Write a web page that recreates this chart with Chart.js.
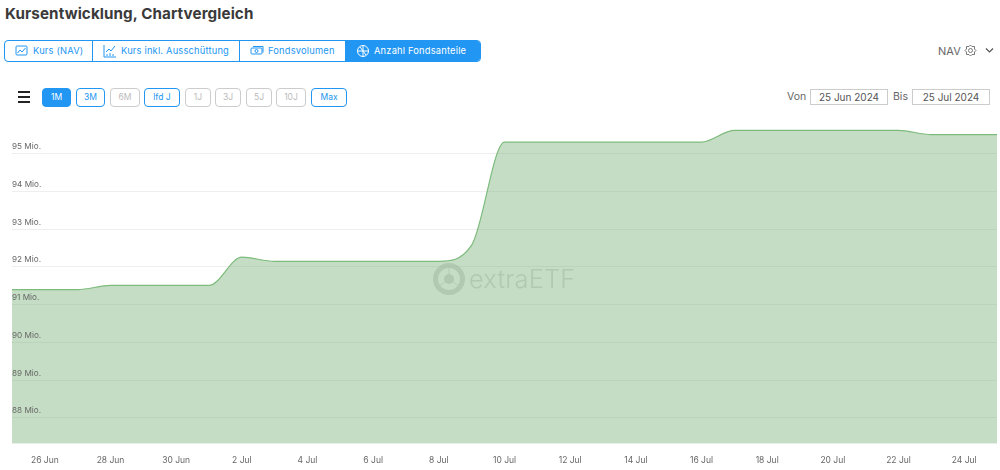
<!DOCTYPE html>
<html lang="de">
<head>
<meta charset="utf-8">
<title>Kursentwicklung, Chartvergleich</title>
<script src="https://cdn.jsdelivr.net/npm/chart.js@4"></script>
<style>
    html, body { margin: 0; padding: 0; background: #fff; }
    body { width: 1000px; height: 470px; position: relative; overflow: hidden; font-family: Inter, "Open Sans", sans-serif; }
    h1 { position: absolute; left: 5px; top: 4px; margin: 0; font-size: 15.2px; line-height: 20px; font-weight: 700; color: #3a3a3a; letter-spacing: 0.1px; }
    .tabs { position: absolute; left: 4px; top: 40px; width: 477px; height: 22px; box-sizing: border-box; border: 1px solid #2196f3; border-radius: 4px; overflow: hidden; }
    .tab { position: absolute; top: 0; height: 20px; line-height: 20px; font-size: 9.3px; color: #2196f3; letter-spacing: 0.2px; white-space: nowrap; box-sizing: border-box; border-right: 1px solid #2196f3; }
    .tab svg { position: absolute; left: 10px; top: 3px; }
    .tab span { position: absolute; top: 0; }
    .tab.active { background: #2196f3; color: #fff; border-right: 0; }
    .menu { position: absolute; left: 18px; top: 91px; width: 12px; height: 2px; background: #222; box-shadow: 0 5px 0 #222, 0 10px 0 #222; }
    .range { position: absolute; top: 88px; height: 19px; line-height: 17px; box-sizing: border-box; text-align: center; font-size: 8.5px; border: 1px solid #2196f3; border-radius: 4px; color: #2196f3; }
    .range.on { background: #2196f3; color: #fff; }
    .range.off { border-color: #ccc; color: #bbb; }
    .lbl { position: absolute; font-size: 10.5px; color: #666; line-height: 14px; }
    .date { position: absolute; top: 89px; width: 78px; height: 16px; line-height: 15px; box-sizing: border-box; border: 1px solid #ccc; text-align: center; font-size: 10px; color: #555; }
    #wrap { position: absolute; left: 0; top: 121px; width: 1001px; height: 349px; }
    #chart { display: block; }
    .mark { position: absolute; left: 432px; top: 262px; width: 150px; height: 34px; opacity: 0.55; }
    .mark span { position: absolute; left: 37px; top: 0; font-size: 25.4px; font-weight: 300; line-height: 34px; color: #a3b8a3; letter-spacing: 0.2px; }
</style>
</head>
<body>
<h1>Kursentwicklung, Chartvergleich</h1>

<div class="tabs">
    <div class="tab" style="left:0;width:88px">
        <svg width="13" height="13" viewBox="0 0 13 13" fill="none" stroke="#2196f3"><rect x="1" y="2" width="11" height="9" rx="1"/><path d="M2.500 9 5 6l2 2 3.500-4"/></svg>
        <span style="left:28px">Kurs (NAV)</span>
    </div>
    <div class="tab" style="left:88px;width:147px">
        <svg width="14" height="14" viewBox="0 0 14 14" fill="none" stroke="#2196f3"><path d="M1 1v12h12"/><path d="M3 8l3-3 2 2 4-5"/><path d="M4 12v-2M7 12v-3M10 12v-2"/></svg>
        <span style="left:28px">Kurs inkl. Ausschüttung</span>
    </div>
    <div class="tab" style="left:235px;width:106px">
        <svg width="14" height="13" viewBox="0 0 14 13" fill="none" stroke="#2196f3"><rect x="1" y="4" width="11" height="6" rx="1"/><path d="M3 2.500h10v6"/><circle cx="6.500" cy="7" r="1.500"/></svg>
        <span style="left:28px">Fondsvolumen</span>
    </div>
    <div class="tab active" style="left:341px;width:135px">
        <svg width="14" height="14" viewBox="0 0 14 14" fill="none" stroke="#fff"><circle cx="7" cy="7" r="5.500"/><path d="M7 1.500v11M1.500 7h11M4 3l6 8"/></svg>
        <span style="left:28px">Anzahl Fondsanteile</span>
    </div>
</div>

<div class="lbl" style="left:938px;top:44px;font-size:11px">NAV</div>
<svg style="position:absolute;left:964px;top:44px" width="13" height="13" viewBox="0 0 13 13" fill="none" stroke="#777"><path d="M6.500 1 8 2.500h2.500V5L12 6.500 10.500 8v2.500H8L6.500 12 5 10.500H2.500V8L1 6.500 2.500 5V2.500H5z"/><circle cx="6.500" cy="6.500" r="2"/></svg>
<svg style="position:absolute;left:985px;top:47px" width="9" height="7" viewBox="0 0 9 7" fill="none" stroke="#555" stroke-width="1.200"><path d="M1 1.500 4.500 5 8 1.500"/></svg>

<div class="menu"></div>
<div id="ranges"></div>

<div class="lbl" style="left:787px;top:90px">Von</div>
<div class="date" style="left:810px">25 Jun 2024</div>
<div class="lbl" style="left:893px;top:90px">Bis</div>
<div class="date" style="left:912px">25 Jul 2024</div>

<div id="wrap"><canvas id="chart" width="1001" height="349"></canvas></div>

<div class="mark">
    <svg width="34" height="34" viewBox="0 0 34 34" fill="none" stroke="#a3b8a3"><circle cx="17" cy="17" r="13.500" stroke-width="5"/><circle cx="17" cy="17" r="5" fill="#a3b8a3" stroke="none"/><path d="M17 4v13M17 17 6 25M17 17l11 8" stroke-width="0.800"/></svg>
    <span>extraETF</span>
</div>

<script>
// one entry per day, 25 Jun - 25 Jul 2024
let days = [
    '25 Jun', '26 Jun', '27 Jun', '28 Jun', '29 Jun', '30 Jun',
    '1 Jul', '2 Jul', '3 Jul', '4 Jul', '5 Jul', '6 Jul', '7 Jul', '8 Jul', '9 Jul', '10 Jul',
    '11 Jul', '12 Jul', '13 Jul', '14 Jul', '15 Jul', '16 Jul', '17 Jul', '18 Jul', '19 Jul', '20 Jul',
    '21 Jul', '22 Jul', '23 Jul', '24 Jul', '25 Jul'
];

// fund units in millions
let units = [
    91.40, 91.40, 91.40, 91.51, 91.51, 91.51,
    91.51, 92.26, 92.15, 92.15, 92.15, 92.15, 92.15, 92.15, 92.58, 95.31,
    95.31, 95.31, 95.31, 95.31, 95.31, 95.31, 95.62, 95.62, 95.62, 95.62,
    95.62, 95.62, 95.51, 95.51, 95.51
];

let rangeNames = ['1M', '3M', '6M', 'lfd J', '1J', '3J', '5J', '10J', 'Max'];
let rangeStates = ['on', '', 'off', '', 'off', 'off', 'off', 'off', ''];
let rangeLefts = [42, 76, 110, 144, 185, 215, 246, 276, 311];
let rangeWidths = [29, 29, 30, 36, 26, 26, 26, 30, 36];

for (let i = 0; i < rangeNames.length; i++) {
    let b = document.createElement('div');
    b.className = 'range ' + rangeStates[i];
    b.style.left = rangeLefts[i] + 'px';
    b.style.width = rangeWidths[i] + 'px';
    b.textContent = rangeNames[i];
    document.getElementById('ranges').appendChild(b);
}

let ctx = document.getElementById('chart');
let myChart = new Chart(ctx, {
    type: 'line',
    data: {
        labels: days,
        datasets: [{
            data: units,
            borderColor: '#7dbb7d',
            borderWidth: 1.2,
            backgroundColor: 'rgba(107, 170, 107, 0.4)',
            fill: 'start',
            pointRadius: 0,
            cubicInterpolationMode: 'monotone'
        }]
    },
    options: {
        responsive: false,
        animation: false,
        layout: { padding: { left: 12, right: 3, top: 0, bottom: 0 } },
        plugins: { legend: { display: false }, tooltip: { enabled: false } },
        scales: {
            x: {
                offset: false,
                grid: { display: false },
                border: { display: false },
                ticks: {
                    autoSkip: false,
                    maxRotation: 0,
                    padding: 4,
                    color: '#666',
                    font: { family: 'Inter', size: 8.5 },
                    callback: function(value, index) {
                        return index % 2 == 1 ? days[index] : '';
                    }
                }
            },
            y: {
                min: 87.31,
                max: 95.74,
                grid: { color: '#eeeeee', drawTicks: false },
                border: { display: false },
                ticks: {
                    stepSize: 1,
                    includeBounds: false,
                    mirror: true,
                    padding: 0,
                    labelOffset: -7,
                    z: 1,
                    color: '#666',
                    font: { family: 'Inter', size: 8.2 },
                    callback: function(value) {
                        return value + ' Mio.';
                    }
                }
            }
        }
    }
});
</script>
</body>
</html>
